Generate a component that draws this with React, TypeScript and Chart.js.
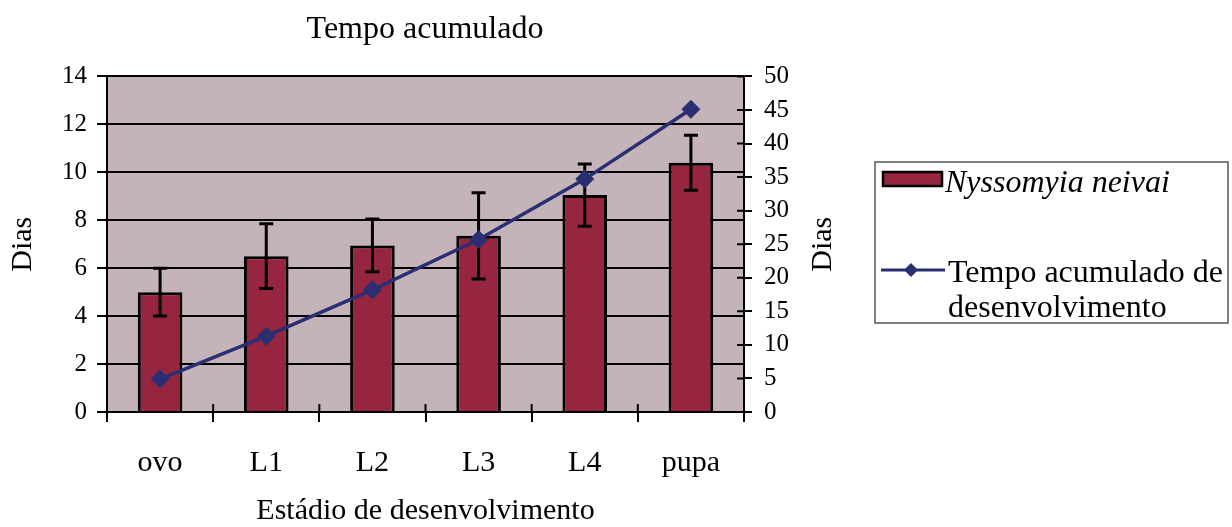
import React, { useEffect, useRef } from 'react';
import { Chart, registerables } from 'chart.js';

Chart.register(...registerables);

const categories = ['ovo', 'L1', 'L2', 'L3', 'L4', 'pupa'];
const meanDays = [5.0, 6.5, 6.95, 7.35, 9.05, 10.4];
const errDays = [1.0, 1.35, 1.1, 1.8, 1.3, 1.15];
const cumulativeDays = [4.9, 11.3, 18.2, 25.7, 34.7, 45.1];
const leftTicks = [0, 2, 4, 6, 8, 10, 12, 14];
const rightTicks = [0, 5, 10, 15, 20, 25, 30, 35, 40, 45, 50];

const chartTitle = 'Tempo acumulado';
const xTitle = 'Estádio de desenvolvimento';
const yTitle = 'Dias';
const barLabel = 'Nyssomyia neivai';
const lineLabel = ['Tempo acumulado de', 'desenvolvimento'];

const FONT = '"Liberation Serif", "Times New Roman", serif';
const BAR_COLOR = '#962540';
const LINE_COLOR = '#2b2e70';
const PLOT_BG = '#c4b3b8';

export default function App() {
  const ref = useRef<HTMLCanvasElement>(null);

  useEffect(() => {
    document.body.style.margin = '0';
    const canvas = ref.current;
    if (!canvas) return;

    const plotBg = {
      id: 'plotBg',
      beforeDraw(chart: any) {
        const { ctx, chartArea } = chart;
        ctx.save();
        ctx.fillStyle = PLOT_BG;
        ctx.fillRect(chartArea.left, chartArea.top, chartArea.right - chartArea.left, chartArea.bottom - chartArea.top);
        ctx.restore();
      },
    };

    const errorBars = {
      id: 'errorBars',
      afterDatasetDraw(chart: any, args: any) {
        if (args.index !== 0) return;
        const meta = chart.getDatasetMeta(0);
        const y = chart.scales.y;
        const ctx = chart.ctx;
        ctx.save();
        ctx.strokeStyle = '#000';
        ctx.lineWidth = 3;
        meta.data.forEach((bar: any, i: number) => {
          const x = bar.x;
          const top = y.getPixelForValue(meanDays[i] + errDays[i]);
          const bot = y.getPixelForValue(meanDays[i] - errDays[i]);
          ctx.beginPath();
          ctx.moveTo(x, top);
          ctx.lineTo(x, bot);
          ctx.moveTo(x - 7, top);
          ctx.lineTo(x + 7, top);
          ctx.moveTo(x - 7, bot);
          ctx.lineTo(x + 7, bot);
          ctx.stroke();
        });
        ctx.restore();
      },
    };

    const extras = {
      id: 'extras',
      afterDraw(chart: any) {
        const { ctx, chartArea } = chart;
        const y1 = chart.scales.y1;
        const x = chart.scales.x;
        ctx.save();
        // inner parts of cross tick marks
        ctx.strokeStyle = '#000';
        ctx.lineWidth = 2;
        ctx.beginPath();
        rightTicks.forEach((v) => {
          const py = y1.getPixelForValue(v);
          ctx.moveTo(chartArea.right - 7, py);
          ctx.lineTo(chartArea.right, py);
        });
        const n = categories.length;
        for (let i = 0; i <= n; i++) {
          const px = x.left + (i * (x.right - x.left)) / n;
          ctx.moveTo(px, chartArea.bottom - 8);
          ctx.lineTo(px, chartArea.bottom);
        }
        ctx.stroke();

        // right axis title
        ctx.fillStyle = '#000';
        ctx.font = `30px ${FONT}`;
        ctx.textAlign = 'center';
        ctx.textBaseline = 'middle';
        ctx.translate(823, (chartArea.top + chartArea.bottom) / 2);
        ctx.rotate(-Math.PI / 2);
        ctx.fillText(yTitle, 0, 0);
        ctx.restore();

        // legend
        ctx.save();
        ctx.strokeStyle = '#555';
        ctx.lineWidth = 1.5;
        ctx.strokeRect(875, 162, 353, 161);
        ctx.fillStyle = BAR_COLOR;
        ctx.fillRect(883, 172, 59, 14);
        ctx.strokeStyle = '#000';
        ctx.lineWidth = 2.5;
        ctx.strokeRect(883, 172, 59, 14);
        ctx.fillStyle = '#000';
        ctx.textAlign = 'left';
        ctx.textBaseline = 'alphabetic';
        ctx.font = `italic 32px ${FONT}`;
        ctx.fillText(barLabel, 945, 192);

        ctx.strokeStyle = LINE_COLOR;
        ctx.lineWidth = 3;
        ctx.beginPath();
        ctx.moveTo(881, 270);
        ctx.lineTo(945, 270);
        ctx.stroke();
        ctx.fillStyle = LINE_COLOR;
        ctx.beginPath();
        ctx.moveTo(911, 263);
        ctx.lineTo(918, 270);
        ctx.lineTo(911, 277);
        ctx.lineTo(904, 270);
        ctx.closePath();
        ctx.fill();
        ctx.fillStyle = '#000';
        ctx.font = `32px ${FONT}`;
        ctx.fillText(lineLabel[0], 948, 282);
        ctx.fillText(lineLabel[1], 948, 317);
        ctx.restore();
      },
    };

    const chart = new Chart(canvas, {
      type: 'bar',
      data: {
        labels: categories,
        datasets: [
          {
            type: 'bar',
            label: barLabel,
            data: meanDays,
            yAxisID: 'y',
            backgroundColor: BAR_COLOR,
            borderColor: '#000',
            borderWidth: 3,
            categoryPercentage: 1,
            barPercentage: 0.42,
            order: 1,
          },
          {
            type: 'line',
            label: lineLabel.join(' '),
            data: cumulativeDays,
            yAxisID: 'y1',
            borderColor: LINE_COLOR,
            backgroundColor: LINE_COLOR,
            borderWidth: 3.5,
            pointStyle: 'rectRot',
            pointRadius: 7,
            pointBackgroundColor: LINE_COLOR,
            pointBorderColor: LINE_COLOR,
            tension: 0,
            order: 0,
          },
        ],
      },
      options: {
        responsive: false,
        animation: false,
        layout: { padding: { left: 0, right: 382, top: 0, bottom: 0 } },
        plugins: {
          legend: { display: false },
          tooltip: { enabled: false },
          title: {
            display: true,
            text: chartTitle,
            color: '#000',
            font: { family: FONT, size: 32, weight: 'normal' },
            padding: { top: 10, bottom: 28 },
          },
        },
        scales: {
          x: {
            type: 'category',
            offset: true,
            grid: {
              offset: true,
              drawOnChartArea: false,
              drawTicks: true,
              tickLength: 10,
              color: '#000',
              lineWidth: 2,
            },
            border: { color: '#000', width: 2 },
            ticks: {
              color: '#000',
              font: { family: FONT, size: 30 },
              padding: 23,
              maxRotation: 0,
            },
            title: {
              display: true,
              text: xTitle,
              color: '#000',
              font: { family: FONT, size: 30, lineHeight: 1 },
              padding: { top: 0, bottom: 1 },
            },
            afterFit: (s: any) => {
              s.height = 115;
            },
          },
          y: {
            position: 'left',
            min: 0,
            max: 14,
            afterBuildTicks: (s: any) => {
              s.ticks = leftTicks.map((v) => ({ value: v }));
            },
            grid: { color: '#000', lineWidth: 2, tickLength: 10 },
            border: { color: '#000', width: 2 },
            ticks: {
              color: '#000',
              font: { family: FONT, size: 25 },
              padding: 10,
            },
            title: {
              display: true,
              text: yTitle,
              color: '#000',
              font: { family: FONT, size: 30 },
              padding: { top: 5, bottom: 0 },
            },
            afterFit: (s: any) => {
              s.width = 107;
            },
          },
          y1: {
            position: 'right',
            min: 0,
            max: 50,
            afterBuildTicks: (s: any) => {
              s.ticks = rightTicks.map((v) => ({ value: v }));
            },
            grid: { drawOnChartArea: false, color: '#000', lineWidth: 2, tickLength: 8 },
            border: { color: '#000', width: 2 },
            ticks: {
              color: '#000',
              font: { family: FONT, size: 25 },
              padding: 12,
            },
            afterFit: (s: any) => {
              s.width = 106;
            },
          },
        },
      },
      plugins: [plotBg, errorBars, extras],
    } as any);

    return () => chart.destroy();
  }, []);

  return (
    <div style={{ width: 1232, height: 527, background: '#fff' }}>
      <canvas ref={ref} width={1232} height={527} />
    </div>
  );
}
